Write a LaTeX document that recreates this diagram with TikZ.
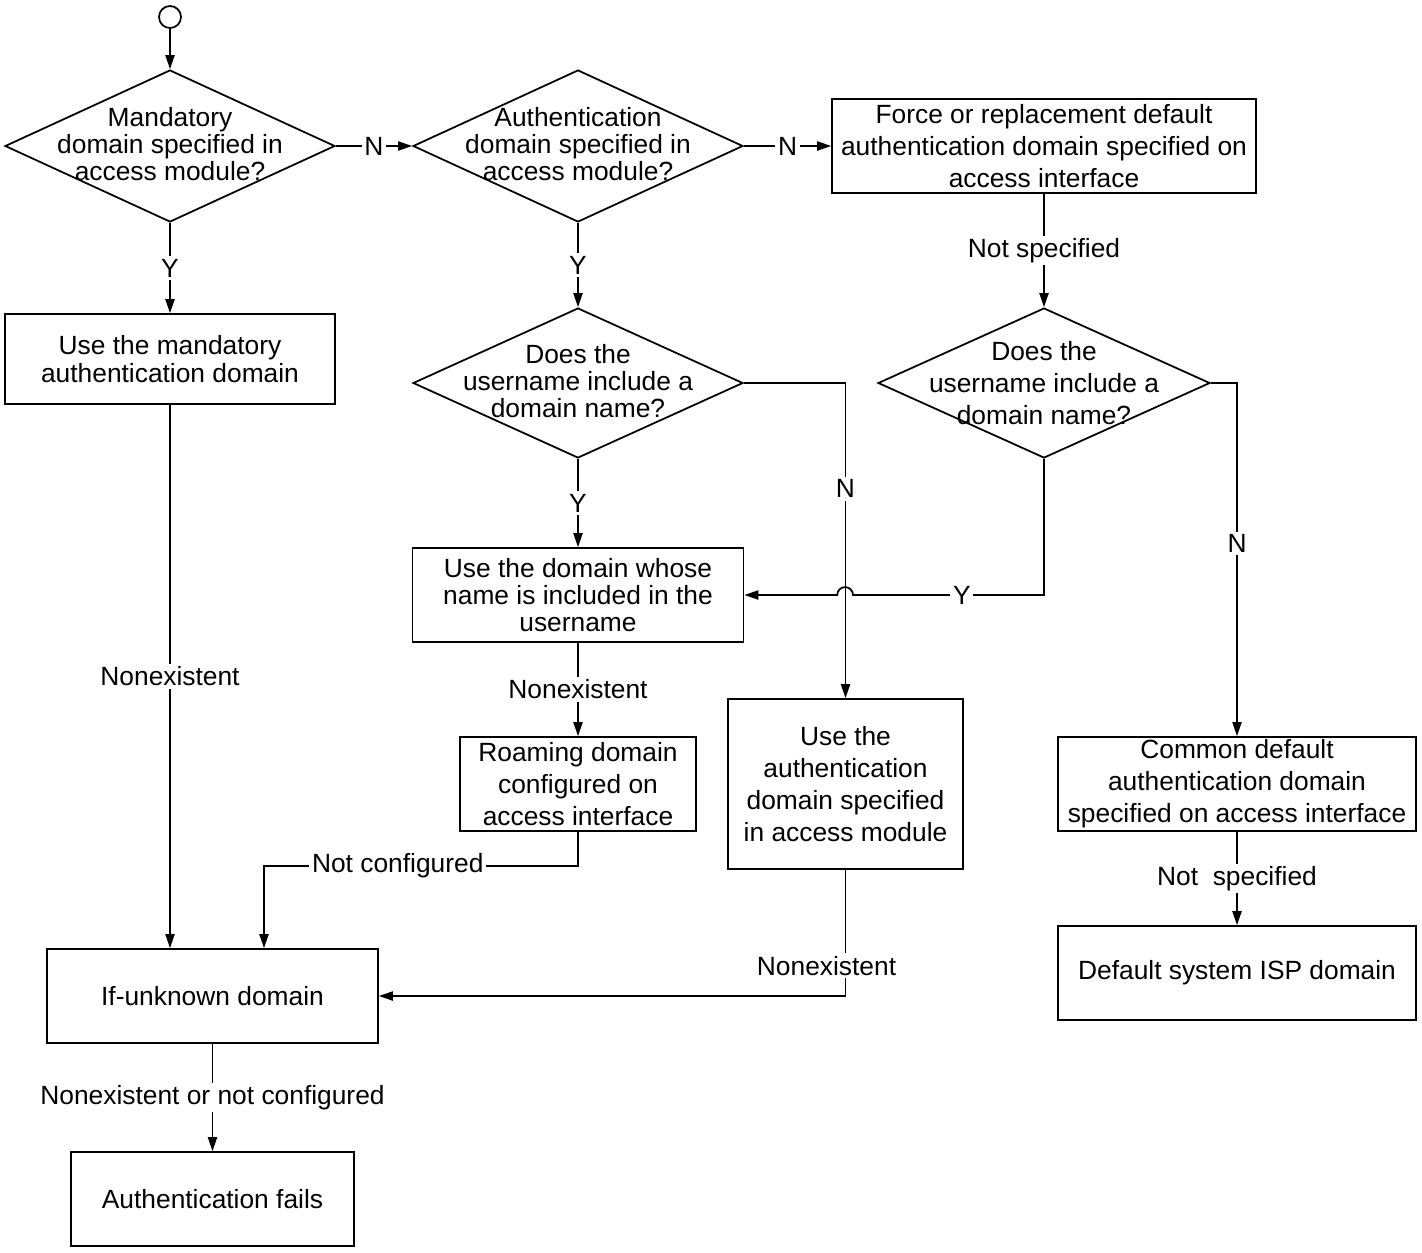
\documentclass[tikz,border=0pt]{standalone}
\usepackage{fontspec}
\setmainfont{Liberation Sans}
\usepackage{tikz}
\usetikzlibrary{shapes.geometric}
\usetikzlibrary{arrows.meta}

\tikzset{
	every node/.style={font=\fontsize{15}{15.5}\selectfont},
	loose/.style={font=\fontsize{15}{18.2}\selectfont},
	decision/.style={shape=diamond, draw=black, line width=1pt, inner sep=0pt},
	block/.style={shape=rectangle, draw=black, line width=1pt, align=center, inner sep=0pt},
	lbl/.style={fill=white, inner sep=1.5pt},
	flow/.style={-{Triangle[length=8pt,width=5.2pt]}, line width=1pt},
}

\begin{document}
\begin{tikzpicture}[x=0.02cm,y=-0.02cm]
			\useasboundingbox (0,0) rectangle (1422,1252);
			\node[shape=circle,draw=black,line width=1pt,inner sep=0pt,minimum size=0.44cm] (start) at (170,17) {};
			\node[decision,minimum width=6.6cm,minimum height=3.04cm,label={[align=center,yshift=1pt]center:Mandatory\\domain specified in\\access module?}] (mand) at (170,146) {};
			\node[decision,minimum width=6.6cm,minimum height=3.04cm,label={[align=center,yshift=1pt]center:Authentication\\domain specified in\\access module?}] (auth) at (578,146) {};
			\node[block,loose,minimum width=8.48cm,minimum height=1.88cm] (force) at (1044,146) {Force or replacement default\\authentication domain specified on\\access interface};
			\node[block,minimum width=6.6cm,minimum height=1.8cm] (usemand) at (170,359) {Use the mandatory\\authentication domain};
			\node[decision,minimum width=6.6cm,minimum height=3cm,label={[align=center,yshift=1pt]center:Does the\\username include a\\domain name?}] (incl1) at (578,383) {};
			\node[decision,minimum width=6.64cm,minimum height=3cm,label={[align=center,loose]center:Does the\\username include a\\domain name?}] (incl2) at (1044,383) {};
			\node[block,minimum width=6.62cm,minimum height=1.88cm] (usename) at (578,595) {Use the domain whose\\name is included in the\\username};
			\node[block,loose,minimum width=4.7cm,minimum height=3.4cm] (useauth) at (845.5,784) {Use the\\authentication\\domain specified\\in access module};
			\node[block,loose,minimum width=4.72cm,minimum height=1.88cm] (roam) at (578,784) {Roaming domain\\configured on\\access interface};
			\node[block,loose,minimum width=7.16cm,minimum height=1.88cm] (common) at (1237,784) {Common default\\authentication domain\\specified on access interface};
			\node[block,minimum width=7.16cm,minimum height=1.88cm] (sysisp) at (1237,973) {Default system ISP domain};
			\node[block,minimum width=6.62cm,minimum height=1.88cm] (unknown) at (212.5,996) {If-unknown domain};
			\node[block,minimum width=5.66cm,minimum height=1.88cm] (fails) at (212.5,1199) {Authentication fails};
			\coordinate (notcfg) at (264,866);
			\coordinate (jump) at (853,595);

			%% lines
			\draw[flow] (start) -- (mand);
			\draw[flow] (mand) -- node[lbl] {N} (auth);
			\draw[flow] (auth) -- node[lbl] {N} (force);
			\draw[flow] (mand) -- node[lbl] {Y} (usemand);
			\draw[flow] (auth) -- node[lbl] {Y} (incl1);
			\draw[flow] (force) -- node[lbl] {Not specified} (incl2);
			\draw[flow] (incl1) -- node[lbl] {Y} (usename);
			\draw[flow] (incl1.east) -| node[lbl,pos=0.668] {N} (useauth.north);
			\draw[flow] (incl2.east) -| node[lbl,pos=0.727] {N} (common.north);
			\draw[flow] (incl2.south) |- node[lbl,pos=0.715] {Y} (jump) arc[start angle=0,end angle=180,radius=4.5pt] -- (usename.east);
			\draw[flow] (usename) -- node[lbl] {Nonexistent} (roam);
			\draw[flow] (common) -- node[lbl] {Not\ \ specified} (sysisp);
			\draw[flow] (roam.south) |- node[lbl,pos=0.787] {Not configured} (notcfg) -- (notcfg |- unknown.north);
			\draw[flow] (usemand.south) -- node[lbl] {Nonexistent} (usemand.south |- unknown.north);
			\draw[flow] (useauth.south) |- node[lbl,pos=0.38,xshift=-0.38cm] {Nonexistent} (unknown.east);
			\draw[flow] (unknown) -- node[lbl] {Nonexistent or not configured} (fails);
		\end{tikzpicture}
\end{document}
